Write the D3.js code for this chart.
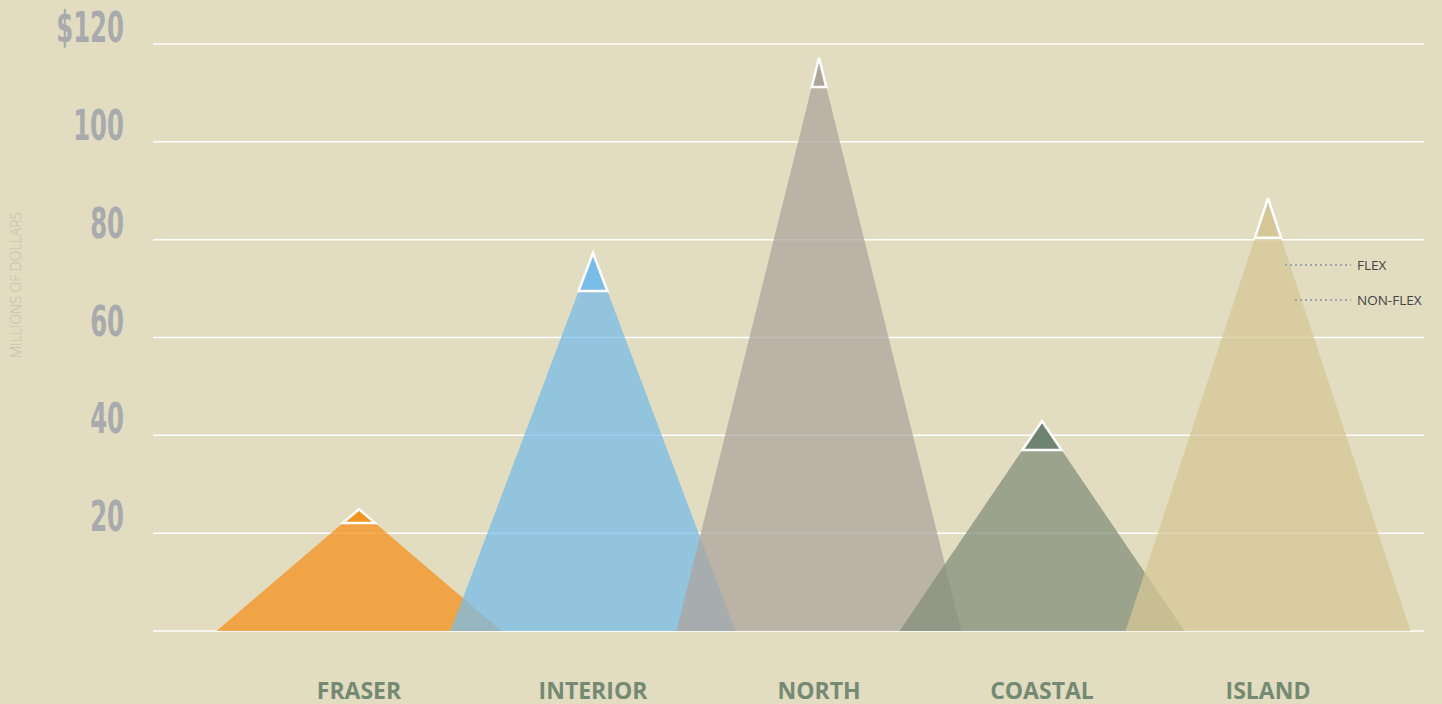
<!DOCTYPE html>
<html>
<head>
<meta charset="utf-8">
<script src="https://cdn.jsdelivr.net/npm/d3@7"></script>
<style>
  body { margin: 0; background: #e2dcc0; }
  svg { display: block; }
</style>
</head>
<body>
<div id="chart"></div>
<script>
// define variables
const width = 1442;
const height = 704;

///
/// DATA
///

const regions = ["FRASER", "INTERIOR", "NORTH", "COASTAL", "ISLAND"];
const nonFlex = [22.1, 69.5, 111.2, 37.0, 80.4];
const flex = [2.8, 7.8, 6.0, 5.9, 8.1];
const yTicks = [0, 20, 40, 60, 80, 100, 120];
const yTickLabels = ["", "20", "40", "60", "80", "100", "$120"];
const legendLabels = ["FLEX", "NON-FLEX"];

// colours per region: body (drawn see-through) and the flex tip
const bodyColors = ["#f5921c", "#78bce8", "#aea69e", "#83907b", "#d6c796"];
const tipColors = ["#f29420", "#78bce8", "#aba59c", "#6f8470", "#d6c796"];

const data = regions.map((r, i) => ({
    name: r,
    nonFlex: nonFlex[i],
    total: nonFlex[i] + flex[i],
    body: bodyColors[i],
    tip: tipColors[i]
}));

var svg = d3.select("#chart")
    .append("svg")
    .attr("width", width)
    .attr("height", height);

svg.append("rect")
    .attr("width", width)
    .attr("height", height)
    .attr("fill", "#e2dcc0");

const y = d3.scaleLinear()
    .domain([0, 120])
    .range([631, 44]);

// peaks are not evenly spaced in the original
const x = d3.scaleOrdinal()
    .domain(regions)
    .range([359, 593, 819, 1042, 1268]);

const halfW = 142.5;

///
/// GRID + Y LABELS
///

svg.append("g")
    .attr("class", "grid")
    .selectAll("line")
    .data(yTicks)
    .join("line")
    .attr("x1", 153)
    .attr("x2", 1424)
    .attr("y1", d => y(d))
    .attr("y2", d => y(d))
    .attr("stroke", "#ffffff")
    .attr("stroke-width", 1.5);

svg.append("g")
    .attr("class", "y-labels")
    .selectAll("text")
    .data(yTicks)
    .join("text")
    .attr("transform", d => `translate(124, ${y(d) - 2}) scale(0.66, 1.04)`)
    .attr("text-anchor", "end")
    .attr("font-family", "'Liberation Sans Narrow', 'DejaVu Sans Condensed', sans-serif")
    .attr("font-weight", "bold")
    .attr("font-size", 41)
    .attr("fill", "#a9aaae")
    .text((d, i) => yTickLabels[i]);

svg.append("text")
    .attr("transform", "translate(21, 285) rotate(-90)")
    .attr("text-anchor", "middle")
    .attr("font-family", "'Open Sans', sans-serif")
    .attr("font-weight", 300)
    .attr("font-size", 14)
    .attr("fill", "#c6c1b1")
    .text("MILLIONS OF DOLLARS");

///
/// MOUNTAINS
///

const mountains = svg.append("g").attr("class", "mountains");

mountains.selectAll("path.body")
    .data(data)
    .join("path")
    .attr("class", "body")
    .attr("d", d => {
        const cx = x(d.name);
        return `M${cx - halfW},${y(0)} L${cx},${y(d.total)} L${cx + halfW},${y(0)} Z`;
    })
    .attr("fill", d => d.body)
    .attr("fill-opacity", 0.75);

// flex tips: top part of each mountain, outlined white
mountains.selectAll("path.tip")
    .data(data)
    .join("path")
    .attr("class", "tip")
    .attr("d", d => {
        const cx = x(d.name);
        const h = y(0) - y(d.total);
        const w = halfW * (y(d.nonFlex) - y(d.total)) / h;
        return `M${cx - w},${y(d.nonFlex)} L${cx},${y(d.total)} L${cx + w},${y(d.nonFlex)} Z`;
    })
    .attr("fill", d => d.tip)
    .attr("stroke", "#ffffff")
    .attr("stroke-width", 2.5)
    .attr("stroke-linejoin", "miter")
    .attr("stroke-miterlimit", 3);

///
/// CATEGORY LABELS
///

svg.append("g")
    .attr("class", "x-labels")
    .selectAll("text")
    .data(regions)
    .join("text")
    .attr("x", d => x(d))
    .attr("y", 699)
    .attr("text-anchor", "middle")
    .attr("font-family", "'Open Sans', sans-serif")
    .attr("font-weight", "bold")
    .attr("font-size", 23)
    .attr("fill", "#748a72")
    .text(d => d);

///
/// LEGEND
///

const legend = svg.append("g").attr("class", "legend");
const legendRows = [
    { label: legendLabels[0], x0: 1285, y: 265 },
    { label: legendLabels[1], x0: 1295, y: 300 }
];

legend.selectAll("line")
    .data(legendRows)
    .join("line")
    .attr("x1", d => d.x0)
    .attr("x2", 1351)
    .attr("y1", d => d.y)
    .attr("y2", d => d.y)
    .attr("stroke", "#a2a4ad")
    .attr("stroke-width", 2)
    .attr("stroke-dasharray", "2,3");

legend.selectAll("text")
    .data(legendRows)
    .join("text")
    .attr("x", 1357)
    .attr("y", d => d.y + 5)
    .attr("font-family", "'Open Sans', sans-serif")
    .attr("font-size", 13.5)
    .attr("fill", "#444444")
    .text(d => d.label);
</script>
</body>
</html>
